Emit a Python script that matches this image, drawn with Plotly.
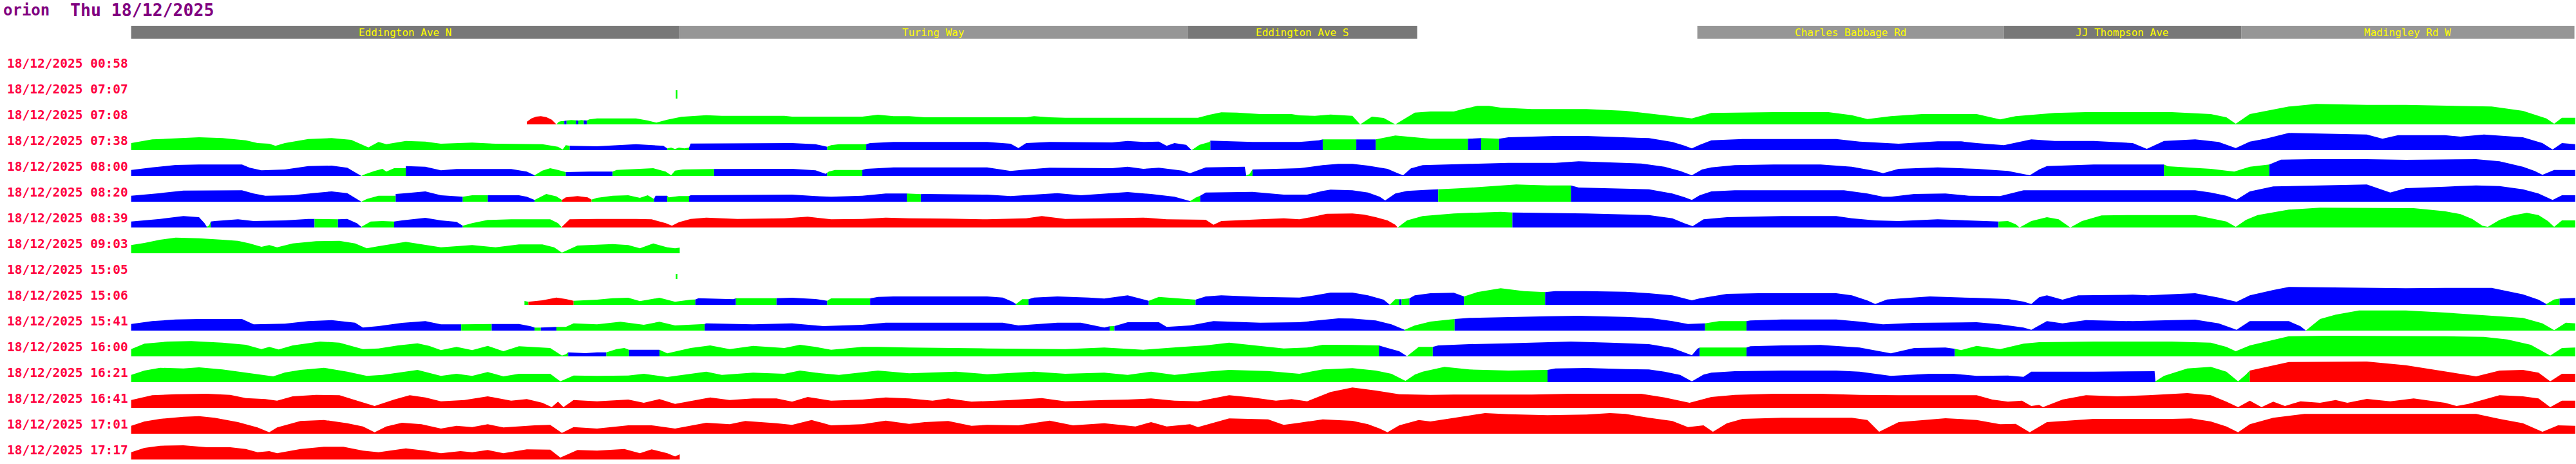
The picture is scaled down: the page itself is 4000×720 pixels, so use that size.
import numpy as np
import plotly.graph_objects as go

# ---------------- data ----------------
title_host = "orion"
title_date = "Thu 18/12/2025"

row_labels = ["18/12/2025 00:58", "18/12/2025 07:07", "18/12/2025 07:08", "18/12/2025 07:38",
              "18/12/2025 08:00", "18/12/2025 08:20", "18/12/2025 08:39", "18/12/2025 09:03",
              "18/12/2025 15:05", "18/12/2025 15:06", "18/12/2025 15:41", "18/12/2025 16:00",
              "18/12/2025 16:21", "18/12/2025 16:41", "18/12/2025 17:01", "18/12/2025 17:17"]

street_names = ["Eddington Ave N", "Turing Way", "Eddington Ave S", "Charles Babbage Rd",
                "JJ Thompson Ave", "Madingley Rd W"]
street_start = [3, 706, 1357, 2010, 2403, 2707]
street_end = [706, 1357, 1651, 2403, 2707, 3134]
street_shade = ["dark", "light", "dark", "light", "dark", "light"]

# route position, height ; colour runs start at given position
p_0058 = []
c_0058 = []

p_0707 = [(701, 39), (703, 39)]
c_0707 = [(701, "g")]

p_0708 = [(510, 12), (516, 28), (522, 36), (528, 38), (535, 34), (542, 22), (548, 0), (551, 12), (554, 15),
          (558, 16), (561, 18), (567, 20), (573, 19), (576, 18), (580, 20), (583, 19), (587, 18), (590, 23),
          (600, 28), (650, 28), (665, 18), (676, 8), (690, 22), (708, 35), (740, 43), (760, 40), (840, 40),
          (850, 36), (940, 36), (960, 45), (980, 38), (1000, 38), (1020, 33), (1150, 33), (1160, 38), (1180, 33),
          (1200, 31), (1370, 31), (1385, 45), (1400, 56), (1420, 55), (1450, 48), (1490, 48), (1500, 42),
          (1520, 40), (1540, 46), (1568, 40), (1578, 0), (1593, 36), (1608, 30), (1623, 0), (1638, 33),
          (1648, 55), (1668, 60), (1698, 60), (1708, 70), (1728, 86), (1743, 86), (1758, 78), (1798, 71),
          (1868, 71), (1918, 63), (1968, 43), (2003, 28), (2028, 53), (2108, 57), (2178, 57), (2208, 43),
          (2228, 25), (2258, 38), (2298, 48), (2368, 48), (2398, 23), (2418, 38), (2468, 53), (2508, 57),
          (2618, 57), (2668, 48), (2688, 33), (2700, 3), (2718, 48), (2768, 83), (2803, 95), (2868, 91),
          (2918, 91), (3028, 83), (3068, 63), (3098, 28), (3108, 3), (3118, 31), (3135, 31)]
c_0708 = [(510, "r"), (548, "g"), (558, "b"), (561, "g"), (573, "b"), (576, "g"), (583, "b"), (587, "g")]

p_0738 = [(3, 33), (30, 50), (60, 56), (90, 60), (120, 56), (150, 46), (165, 33), (180, 30), (188, 20), (200, 33),
          (230, 52), (260, 56), (285, 48), (295, 33), (307, 13), (320, 38), (330, 28), (355, 43), (380, 40),
          (400, 30), (440, 35), (470, 30), (530, 28), (550, 16), (556, 3), (560, 23), (565, 20), (600, 18),
          (650, 28), (685, 20), (690, 8), (695, 12), (700, 5), (705, 12), (712, 8), (718, 12), (720, 31),
          (800, 33), (850, 33), (880, 28), (893, 16), (895, 16), (900, 23), (910, 28), (945, 28), (950, 33),
          (980, 38), (1100, 38), (1130, 30), (1140, 10), (1150, 33), (1180, 38), (1260, 36), (1280, 43),
          (1300, 38), (1320, 40), (1330, 20), (1340, 33), (1355, 25), (1362, 0), (1372, 25), (1385, 38),
          (1386, 44), (1440, 38), (1500, 38), (1525, 46), (1530, 50), (1568, 50), (1573, 50), (1598, 50),
          (1623, 68), (1648, 60), (1668, 53), (1716, 53), (1733, 56), (1756, 53), (1768, 60), (1828, 66),
          (1868, 66), (1918, 61), (1948, 56), (1978, 38), (1993, 22), (2003, 8), (2013, 25), (2028, 46),
          (2068, 52), (2188, 52), (2218, 40), (2268, 30), (2318, 41), (2348, 41), (2368, 33), (2403, 23),
          (2438, 50), (2468, 43), (2518, 43), (2568, 33), (2586, 6), (2608, 43), (2648, 50), (2678, 38),
          (2700, 10), (2718, 40), (2738, 53), (2768, 80), (2828, 75), (2868, 73), (2888, 53), (2908, 70),
          (2968, 70), (2988, 63), (3018, 73), (3068, 60), (3093, 33), (3106, 3), (3118, 33), (3135, 28)]
c_0738 = [(3, "g"), (565, "b"), (690, "g"), (718, "b"), (895, "g"), (945, "b"), (1362, "g"), (1386, "b"),
          (1530, "g"), (1573, "b"), (1598, "g"), (1716, "b"), (1733, "g"), (1756, "b")]

p_0800 = [(3, 28), (30, 40), (60, 51), (90, 53), (145, 53), (155, 38), (170, 26), (200, 30), (230, 46), (260, 48),
          (280, 38), (292, 13), (298, 0), (303, 8), (315, 23), (325, 33), (330, 20), (340, 36), (355, 36),
          (355, 46), (380, 43), (400, 26), (420, 32), (490, 32), (510, 20), (520, 3), (530, 25), (540, 36),
          (550, 28), (560, 18), (590, 20), (620, 20), (625, 28), (672, 36), (688, 20), (695, 3), (700, 25),
          (710, 30), (750, 32), (755, 32), (850, 33), (880, 26), (893, 10), (897, 20), (905, 28), (940, 28),
          (945, 33), (980, 40), (1100, 40), (1130, 23), (1150, 30), (1180, 38), (1260, 36), (1280, 43),
          (1300, 33), (1320, 38), (1350, 25), (1360, 13), (1380, 40), (1430, 43), (1432, 3), (1436, 8),
          (1440, 30), (1500, 36), (1530, 50), (1550, 56), (1568, 56), (1588, 48), (1613, 33), (1626, 13),
          (1633, 3), (1643, 35), (1658, 50), (1718, 56), (1768, 61), (1828, 61), (1858, 68), (1898, 63),
          (1938, 58), (1968, 43), (1988, 23), (2003, 3), (2016, 30), (2028, 40), (2058, 50), (2108, 53),
          (2168, 53), (2208, 43), (2238, 23), (2248, 13), (2268, 33), (2318, 40), (2368, 33), (2408, 23),
          (2436, 3), (2448, 30), (2458, 46), (2518, 53), (2608, 53), (2613, 45), (2668, 33), (2698, 20),
          (2718, 43), (2743, 53), (2758, 76), (2798, 78), (2868, 78), (2918, 75), (3008, 78), (3038, 68),
          (3068, 43), (3083, 23), (3093, 5), (3108, 28), (3135, 28)]
c_0800 = [(3, "b"), (298, "g"), (355, "b"), (520, "g"), (560, "b"), (620, "g"), (750, "b"), (895, "g"),
          (940, "b"), (1432, "g"), (1440, "b"), (2608, "g"), (2743, "b")]

p_0820 = [(3, 28), (40, 40), (70, 52), (145, 53), (160, 38), (175, 28), (210, 30), (235, 40), (260, 48), (280, 40),
          (292, 15), (298, 0), (305, 13), (320, 28), (342, 28), (342, 36), (355, 40), (380, 48), (400, 30),
          (428, 23), (440, 30), (460, 30), (500, 30), (510, 23), (520, 8), (535, 36), (548, 25), (555, 8),
          (560, 20), (575, 26), (588, 20), (593, 10), (600, 18), (620, 28), (640, 30), (655, 18), (665, 30),
          (673, 13), (675, 28), (690, 28), (692, 20), (705, 26), (718, 26), (720, 30), (850, 33), (880, 26),
          (900, 23), (940, 28), (970, 38), (997, 38), (1015, 35), (1020, 36), (1100, 33), (1130, 26), (1160, 33),
          (1190, 40), (1220, 30), (1250, 38), (1280, 45), (1310, 36), (1340, 23), (1360, 3), (1368, 20),
          (1373, 28), (1380, 43), (1440, 46), (1480, 33), (1510, 33), (1530, 50), (1540, 56), (1568, 53),
          (1588, 43), (1603, 23), (1610, 6), (1623, 38), (1638, 50), (1668, 56), (1678, 58), (1708, 63),
          (1748, 73), (1778, 80), (1818, 76), (1848, 76), (1858, 66), (1898, 63), (1948, 58), (1978, 38),
          (1993, 22), (2003, 8), (2013, 30), (2028, 48), (2058, 53), (2198, 53), (2228, 38), (2248, 23),
          (2258, 23), (2288, 36), (2328, 38), (2358, 28), (2398, 26), (2428, 53), (2648, 53), (2668, 43),
          (2688, 28), (2701, 10), (2718, 48), (2748, 71), (2808, 76), (2868, 80), (2898, 43), (2918, 63),
          (2968, 70), (3008, 76), (3038, 73), (3068, 58), (3088, 38), (3106, 8), (3118, 30), (3135, 30)]
c_0820 = [(3, "b"), (298, "g"), (342, "b"), (428, "g"), (460, "b"), (520, "g"), (555, "r"), (593, "g"),
          (673, "b"), (690, "g"), (718, "b"), (997, "g"), (1015, "b"), (1360, "g"), (1373, "b"), (1678, "g"),
          (1848, "b")]

p_0839 = [(3, 28), (40, 40), (70, 53), (90, 48), (97, 20), (100, 3), (103, 10), (105, 28), (110, 30), (140, 38),
          (160, 30), (200, 33), (230, 40), (238, 40), (268, 38), (280, 40), (292, 20), (298, 3), (310, 28),
          (325, 30), (340, 28), (350, 33), (380, 45), (400, 33), (420, 26), (428, 8), (440, 20), (460, 35),
          (490, 38), (540, 38), (550, 20), (555, 3), (565, 38), (600, 40), (650, 40), (670, 38), (688, 20),
          (696, 8), (705, 25), (720, 40), (740, 46), (780, 40), (840, 43), (870, 50), (900, 38), (940, 40),
          (970, 46), (1000, 43), (1050, 41), (1100, 38), (1150, 43), (1170, 53), (1200, 40), (1250, 43),
          (1300, 46), (1330, 38), (1380, 36), (1390, 13), (1400, 30), (1450, 38), (1480, 43), (1500, 38),
          (1515, 48), (1535, 64), (1568, 65), (1583, 60), (1598, 48), (1613, 33), (1623, 13), (1626, 0),
          (1638, 33), (1658, 53), (1698, 65), (1718, 68), (1758, 73), (1773, 70), (1868, 65), (1918, 61),
          (1948, 58), (1978, 43), (1993, 20), (2004, 6), (2018, 38), (2048, 48), (2118, 53), (2188, 53),
          (2208, 43), (2238, 33), (2268, 30), (2318, 38), (2368, 33), (2396, 28), (2408, 30), (2418, 15),
          (2423, 0), (2438, 30), (2458, 48), (2473, 38), (2488, 0), (2503, 30), (2528, 56), (2568, 58),
          (2648, 58), (2668, 43), (2688, 28), (2700, 3), (2713, 35), (2728, 58), (2768, 83), (2808, 92),
          (2928, 90), (2968, 76), (2988, 62), (3003, 40), (3016, 8), (3023, 3), (3038, 35), (3053, 55),
          (3073, 68), (3088, 58), (3100, 30), (3108, 3), (3118, 33), (3135, 33)]
c_0839 = [(3, "b"), (100, "g"), (105, "b"), (238, "g"), (268, "b"), (298, "g"), (340, "b"), (428, "g"),
          (555, "r"), (1626, "g"), (1773, "b"), (2396, "g")]

p_0903 = [(3, 38), (20, 48), (40, 63), (60, 73), (90, 70), (120, 63), (140, 58), (155, 46), (170, 30), (180, 38),
          (190, 28), (210, 46), (240, 56), (270, 58), (290, 46), (305, 23), (320, 33), (355, 53), (380, 38),
          (400, 28), (440, 38), (470, 28), (500, 41), (530, 41), (545, 28), (555, 3), (575, 36), (620, 43),
          (640, 38), (655, 23), (672, 46), (690, 28), (700, 23), (706, 26)]
c_0903 = [(3, "g")]

p_1505 = [(701, 24), (703, 24)]
c_1505 = [(701, "g")]

p_1506 = [(507, 18), (512, 14), (530, 21), (548, 34), (560, 27), (570, 19), (600, 24), (620, 31), (640, 33),
          (655, 17), (680, 33), (700, 14), (720, 24), (726, 25), (730, 31), (775, 26), (778, 31), (830, 31),
          (850, 33), (880, 27), (895, 19), (900, 30), (950, 30), (960, 37), (980, 39), (1100, 39), (1120, 34),
          (1132, 15), (1137, 4), (1145, 26), (1153, 26), (1160, 34), (1190, 39), (1230, 34), (1250, 29),
          (1280, 44), (1295, 30), (1307, 19), (1320, 37), (1340, 31), (1367, 24), (1380, 39), (1400, 44),
          (1450, 37), (1500, 34), (1520, 44), (1540, 57), (1568, 57), (1588, 44), (1608, 24), (1616, 1),
          (1623, 26), (1628, 26), (1631, 26), (1641, 30), (1648, 44), (1668, 54), (1698, 56), (1711, 39),
          (1728, 59), (1758, 77), (1788, 64), (1815, 59), (1828, 64), (1868, 64), (1918, 61), (1948, 54),
          (1978, 44), (1993, 30), (2003, 21), (2013, 30), (2028, 39), (2048, 51), (2088, 54), (2188, 54),
          (2208, 44), (2228, 20), (2238, 4), (2253, 25), (2268, 29), (2308, 39), (2368, 32), (2408, 27),
          (2428, 15), (2438, 4), (2448, 35), (2458, 44), (2478, 24), (2498, 44), (2568, 47), (2588, 44),
          (2628, 51), (2648, 54), (2678, 34), (2701, 14), (2718, 44), (2748, 69), (2768, 83), (2818, 81),
          (2868, 81), (2918, 77), (2968, 79), (3028, 79), (3068, 49), (3088, 24), (3098, 4), (3108, 25),
          (3115, 29), (3135, 32)]
c_1506 = [(507, "g"), (512, "r"), (570, "g"), (726, "b"), (778, "g"), (830, "b"), (895, "g"), (950, "b"),
          (1137, "g"), (1153, "b"), (1307, "g"), (1367, "b"), (1616, "g"), (1628, "b"), (1631, "g"),
          (1641, "b"), (1711, "g"), (1815, "b"), (3098, "g"), (3115, "b")]

p_1541 = [(3, 31), (30, 44), (60, 52), (90, 54), (145, 54), (160, 29), (200, 32), (230, 44), (260, 49), (290, 37),
          (300, 14), (320, 21), (350, 36), (380, 44), (400, 29), (426, 29), (465, 31), (500, 31), (515, 20),
          (520, 14), (528, 14), (548, 17), (560, 17), (570, 34), (600, 29), (630, 41), (660, 27), (680, 41),
          (700, 24), (738, 31), (740, 34), (800, 29), (850, 34), (890, 21), (940, 27), (970, 37), (1120, 37),
          (1140, 24), (1190, 37), (1220, 37), (1250, 14), (1257, 20), (1263, 21), (1280, 39), (1320, 39),
          (1330, 17), (1360, 24), (1390, 44), (1450, 37), (1500, 39), (1530, 51), (1550, 57), (1568, 56),
          (1598, 47), (1618, 29), (1628, 14), (1635, 4), (1648, 24), (1668, 42), (1699, 54), (1718, 59),
          (1768, 64), (1818, 67), (1858, 69), (1918, 64), (1948, 59), (1978, 44), (1998, 31), (2020, 34),
          (2038, 44), (2073, 44), (2078, 47), (2118, 52), (2188, 52), (2218, 42), (2248, 29), (2288, 36),
          (2368, 39), (2398, 29), (2428, 14), (2438, 4), (2458, 44), (2478, 34), (2508, 49), (2568, 44),
          (2618, 49), (2648, 51), (2678, 34), (2701, 4), (2718, 44), (2768, 44), (2783, 20), (2790, 1),
          (2808, 54), (2828, 74), (2858, 94), (2918, 94), (2968, 84), (3018, 71), (3068, 59), (3093, 34),
          (3108, 2), (3123, 37), (3135, 34)]
c_1541 = [(3, "b"), (426, "g"), (465, "b"), (520, "g"), (528, "b"), (548, "g"), (738, "b"), (1257, "g"),
          (1263, "b"), (1635, "g"), (1699, "b"), (2020, "g"), (2073, "b"), (2790, "g")]

p_1600 = [(3, 34), (20, 59), (50, 69), (80, 71), (120, 64), (150, 54), (170, 34), (180, 44), (192, 32), (210, 51),
          (245, 69), (270, 64), (300, 34), (320, 37), (345, 51), (370, 61), (385, 49), (400, 29), (420, 44),
          (440, 29), (460, 49), (480, 24), (500, 47), (540, 39), (555, 4), (560, 10), (563, 19), (585, 15),
          (600, 19), (612, 19), (625, 34), (635, 39), (641, 31), (680, 31), (690, 14), (720, 39), (745, 51),
          (770, 34), (800, 49), (840, 39), (860, 54), (880, 44), (900, 31), (940, 44), (960, 44), (1000, 41),
          (1100, 37), (1200, 34), (1250, 41), (1300, 31), (1350, 44), (1380, 51), (1410, 64), (1450, 49),
          (1480, 37), (1510, 41), (1530, 54), (1568, 53), (1602, 51), (1608, 44), (1628, 24), (1638, 1),
          (1653, 44), (1671, 44), (1678, 51), (1718, 57), (1768, 61), (1818, 67), (1848, 69), (1898, 64),
          (1948, 57), (1978, 39), (2003, 5), (2010, 35), (2013, 41), (2073, 41), (2078, 47), (2118, 51),
          (2168, 53), (2218, 41), (2258, 14), (2288, 39), (2328, 41), (2340, 35), (2348, 29), (2368, 49),
          (2398, 34), (2428, 59), (2448, 66), (2518, 69), (2618, 69), (2668, 64), (2688, 44), (2700, 24),
          (2718, 51), (2768, 94), (2818, 96), (2898, 96), (2968, 94), (3018, 91), (3048, 79), (3078, 54),
          (3103, 4), (3118, 39), (3135, 41)]
c_1600 = [(3, "g"), (563, "b"), (612, "g"), (641, "b"), (680, "g"), (1602, "b"), (1638, "g"), (1671, "b"),
          (2013, "g"), (2073, "b"), (2340, "g")]

p_1621 = [(3, 34), (20, 54), (40, 67), (70, 64), (90, 69), (120, 59), (150, 44), (175, 30), (185, 27), (200, 45),
          (220, 57), (250, 67), (280, 49), (305, 29), (325, 34), (370, 57), (400, 29), (420, 39), (440, 29),
          (460, 47), (480, 27), (500, 39), (540, 39), (553, 4), (570, 31), (600, 29), (640, 31), (660, 39),
          (690, 24), (740, 49), (760, 34), (800, 44), (840, 39), (860, 54), (880, 44), (910, 34), (960, 54),
          (1000, 41), (1060, 49), (1100, 37), (1160, 49), (1200, 39), (1250, 44), (1280, 34), (1310, 49),
          (1340, 34), (1380, 49), (1410, 57), (1460, 52), (1500, 39), (1530, 59), (1568, 65), (1598, 54),
          (1618, 39), (1628, 20), (1636, 6), (1648, 35), (1658, 49), (1686, 71), (1718, 59), (1768, 54),
          (1818, 57), (1828, 64), (1868, 66), (1918, 61), (1948, 59), (1968, 49), (1988, 34), (2003, 4),
          (2018, 35), (2028, 44), (2058, 51), (2118, 54), (2188, 54), (2218, 49), (2258, 29), (2308, 39),
          (2338, 39), (2368, 29), (2408, 31), (2428, 25), (2438, 49), (2518, 49), (2588, 51), (2596, 51),
          (2597, 4), (2608, 29), (2638, 64), (2668, 71), (2688, 49), (2703, 4), (2713, 35), (2718, 54),
          (2768, 94), (2868, 96), (2918, 79), (2968, 49), (3008, 27), (3038, 54), (3068, 57), (3088, 44),
          (3103, 4), (3118, 39), (3135, 39)]
c_1621 = [(3, "g"), (1818, "b"), (2597, "g"), (2718, "r")]

p_1641 = [(3, 37), (30, 59), (60, 64), (100, 66), (130, 61), (150, 46), (175, 41), (190, 34), (210, 54), (240, 61),
          (270, 59), (290, 37), (315, 9), (340, 39), (360, 59), (380, 49), (400, 31), (430, 37), (460, 54),
          (490, 34), (510, 41), (530, 24), (542, 4), (550, 29), (557, 4), (570, 37), (600, 31), (640, 39),
          (660, 24), (680, 41), (700, 19), (745, 49), (770, 37), (800, 44), (830, 44), (850, 29), (870, 51),
          (900, 34), (940, 39), (970, 49), (1000, 44), (1030, 34), (1050, 44), (1080, 29), (1130, 37),
          (1170, 46), (1200, 31), (1250, 37), (1280, 39), (1310, 44), (1340, 34), (1370, 31), (1410, 59),
          (1440, 49), (1470, 34), (1490, 41), (1510, 31), (1540, 74), (1568, 95), (1598, 81), (1628, 64),
          (1668, 61), (1698, 62), (1798, 62), (1848, 66), (1938, 66), (1968, 49), (2000, 24), (2028, 51),
          (2058, 61), (2108, 66), (2168, 66), (2218, 61), (2268, 59), (2368, 59), (2388, 39), (2408, 29),
          (2426, 34), (2438, 9), (2448, 14), (2453, 4), (2478, 39), (2508, 59), (2548, 54), (2588, 59),
          (2638, 69), (2668, 59), (2688, 29), (2703, 4), (2718, 34), (2733, 4), (2748, 29), (2763, 9),
          (2783, 31), (2808, 24), (2828, 37), (2843, 24), (2868, 42), (2898, 31), (2928, 44), (2968, 24),
          (2983, 9), (2998, 19), (3038, 59), (3068, 54), (3088, 44), (3103, 4), (3118, 34), (3135, 34)]
c_1641 = [(3, "r")]

p_1701 = [(3, 37), (20, 57), (40, 69), (70, 79), (90, 82), (110, 74), (140, 54), (165, 29), (180, 7), (190, 29),
          (220, 59), (250, 64), (280, 49), (300, 34), (315, 7), (330, 34), (350, 51), (375, 44), (400, 24),
          (420, 37), (440, 31), (460, 44), (480, 29), (520, 39), (540, 41), (555, 4), (570, 31), (600, 24),
          (640, 39), (670, 39), (700, 24), (740, 51), (770, 44), (790, 59), (830, 49), (850, 41), (875, 64),
          (900, 39), (940, 44), (970, 61), (1000, 46), (1020, 54), (1050, 59), (1080, 37), (1100, 41),
          (1140, 39), (1180, 61), (1210, 39), (1250, 49), (1290, 34), (1310, 54), (1330, 34), (1360, 44),
          (1370, 31), (1410, 71), (1460, 67), (1480, 41), (1500, 51), (1530, 67), (1568, 60), (1588, 44),
          (1603, 24), (1613, 7), (1628, 39), (1653, 64), (1668, 57), (1698, 74), (1738, 96), (1768, 91),
          (1818, 86), (1868, 89), (1898, 96), (1918, 92), (1948, 74), (1978, 59), (1998, 31), (2018, 39),
          (2030, 9), (2048, 49), (2068, 69), (2118, 74), (2208, 74), (2228, 64), (2243, 9), (2268, 54),
          (2328, 72), (2368, 64), (2398, 44), (2418, 46), (2436, 7), (2458, 54), (2518, 69), (2618, 69),
          (2643, 71), (2668, 57), (2688, 34), (2703, 7), (2718, 44), (2748, 74), (2788, 92), (3008, 92),
          (3038, 69), (3068, 49), (3093, 9), (3113, 39), (3135, 37)]
c_1701 = [(3, "r")]

p_1717 = [(3, 34), (20, 54), (40, 64), (70, 66), (100, 57), (130, 57), (150, 49), (165, 34), (180, 39), (190, 29),
          (220, 49), (250, 59), (275, 59), (300, 41), (320, 34), (355, 52), (380, 41), (400, 29), (425, 39),
          (440, 34), (460, 44), (480, 29), (510, 47), (540, 46), (553, 9), (575, 44), (600, 41), (635, 49),
          (655, 29), (670, 47), (690, 29), (700, 14), (706, 24)]
c_1717 = [(3, "r")]

row_points = [p_0058, p_0707, p_0708, p_0738, p_0800, p_0820, p_0839, p_0903,
              p_1505, p_1506, p_1541, p_1600, p_1621, p_1641, p_1701, p_1717]
row_colours = [c_0058, c_0707, c_0708, c_0738, c_0800, c_0820, c_0839, c_0903,
               c_1505, c_1506, c_1541, c_1600, c_1621, c_1641, c_1701, c_1717]

# ---------------- styling ----------------
COL = {"r": "#FF0000", "g": "#00FF00", "b": "#0000FF"}
SHADE = {"dark": "#787878", "light": "#969696"}
ROW_STEP = 120          # vertical units between row baselines
X_RANGE = [-165.05, 3136.0]
Y_RANGE = [-1821, 339]
W, H = 4000, 720

fig = go.Figure()


def colour_runs(pts, cols):
    xs = np.array([p[0] for p in pts], float)
    hs = np.array([p[1] for p in pts], float)
    out = []
    for i, (a, c) in enumerate(cols):
        b = cols[i + 1][0] if i + 1 < len(cols) else xs[-1]
        sel = [(x, h) for x, h in pts if a <= x <= b]
        if not sel or sel[0][0] != a:
            sel.insert(0, (a, float(np.interp(a, xs, hs))))
        if sel[-1][0] != b:
            sel.append((b, float(np.interp(b, xs, hs))))
        out.append((c, sel))
    return out


for k, (pts, cols) in enumerate(zip(row_points, row_colours)):
    if not pts:
        continue
    base = -ROW_STEP * k
    for c, sel in colour_runs(pts, cols):
        xx = [sel[0][0]] + [p[0] for p in sel] + [sel[-1][0]]
        yy = [base] + [base + p[1] for p in sel] + [base]
        fig.add_trace(go.Scatter(x=xx, y=yy, mode="lines", fill="toself",
                                 fillcolor=COL[c], line=dict(width=0, color=COL[c]),
                                 hoverinfo="skip", showlegend=False))

shapes = []
annotations = []
for name, s, e, sh in zip(street_names, street_start, street_end, street_shade):
    shapes.append(dict(type="rect", xref="x", yref="y", x0=s, x1=e, y0=159, y1=219,
                       fillcolor=SHADE[sh], line=dict(width=0), layer="below"))
    annotations.append(dict(x=(s + e) / 2, y=187, xref="x", yref="y", text=name, showarrow=False,
                            xanchor="center", yanchor="middle",
                            font=dict(family="Liberation Sans Narrow, DejaVu Sans Mono", size=16,
                                      color="#FFFF00")))

for k, lab in enumerate(row_labels):
    annotations.append(dict(x=9 / W, xref="paper", y=45 - ROW_STEP * k, yref="y", text=lab,
                            showarrow=False, xanchor="left", yanchor="middle",
                            font=dict(family="DejaVu Sans Mono", size=19.5, color="#FF0040",
                                      weight="bold")))

annotations.append(dict(x=3 / W, xref="paper", y=292, yref="y", text=title_host, showarrow=False,
                        xanchor="left", yanchor="middle",
                        font=dict(family="DejaVu Sans Mono", size=24, color="#800080", weight="bold")))
annotations.append(dict(x=107 / W, xref="paper", y=292, yref="y", text=title_date, showarrow=False,
                        xanchor="left", yanchor="middle",
                        font=dict(family="DejaVu Sans Mono", size=26.5, color="#800080", weight="bold")))

fig.update_layout(width=W, height=H, margin=dict(l=0, r=0, t=0, b=0),
                  paper_bgcolor="white", plot_bgcolor="white",
                  xaxis=dict(range=X_RANGE, visible=False, fixedrange=True),
                  yaxis=dict(range=Y_RANGE, visible=False, fixedrange=True),
                  shapes=shapes, annotations=annotations, showlegend=False)

fig.write_html("out.html", config={"displayModeBar": False},
               post_script="document.body.style.margin='0px';document.body.style.padding='0px';"
                           "document.body.style.overflow='hidden';")
